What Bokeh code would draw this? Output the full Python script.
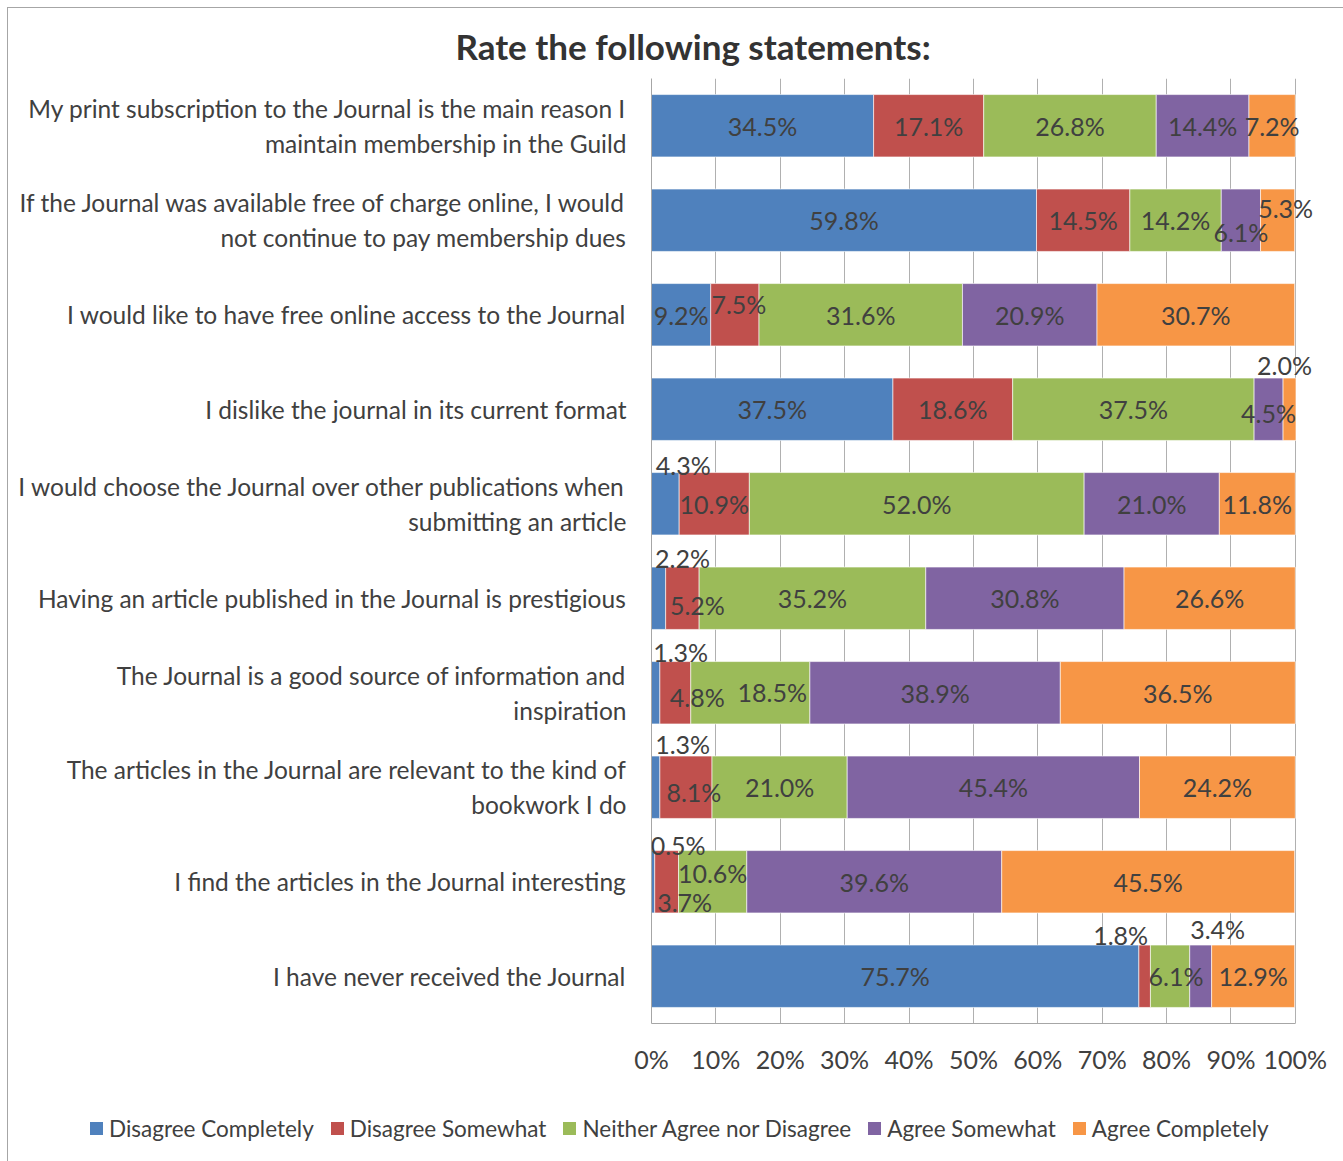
from bokeh.plotting import figure
from bokeh.models import (ColumnDataSource, LabelSet, FactorRange, Range1d, FixedTicker, Div)
from bokeh.layouts import column
from bokeh.core.properties import value
from bokeh.embed import file_html
from bokeh.resources import INLINE

statements = [
    "My print subscription to the Journal is the main reason I\nmaintain membership in the Guild",
    "If the Journal was available free of charge online, I would\nnot continue to pay membership dues",
    "I would like to have free online access to the Journal",
    "I dislike the journal in its current format",
    "I would choose the Journal over other publications when\nsubmitting an article",
    "Having an article published in the Journal is prestigious",
    "The Journal is a good source of information and\ninspiration",
    "The articles in the Journal are relevant to the kind of\nbookwork I do",
    "I find the articles in the Journal interesting",
    "I have never received the Journal",
]
series_names = ["Disagree Completely", "Disagree Somewhat", "Neither Agree nor Disagree",
                "Agree Somewhat", "Agree Completely"]
disagree_completely = [34.5, 59.8, 9.2, 37.5, 4.3, 2.2, 1.3, 1.3, 0.5, 75.7]
disagree_somewhat = [17.1, 14.5, 7.5, 18.6, 10.9, 5.2, 4.8, 8.1, 3.7, 1.8]
neither = [26.8, 14.2, 31.6, 37.5, 52.0, 35.2, 18.5, 21.0, 10.6, 6.1]
agree_somewhat = [14.4, 6.1, 20.9, 4.5, 21.0, 30.8, 38.9, 45.4, 39.6, 3.4]
agree_completely = [7.2, 5.3, 30.7, 2.0, 11.8, 26.6, 36.5, 24.2, 45.5, 12.9]
x_ticks = [0, 10, 20, 30, 40, 50, 60, 70, 80, 90, 100]

colors = ["#4F81BD", "#C0504D", "#9BBB59", "#8064A2", "#F79646"]
keys = ["dc", "ds", "n", "as", "ac"]
values = [disagree_completely, disagree_somewhat, neither, agree_somewhat, agree_completely]

# manual label nudges (row, series) -> (dx px, dy px, +down), as in the original
nudges = {
    (1, 4): (8, -12), (1, 3): (0, 12),
    (2, 1): (4, -11),
    (3, 4): (-5, -44), (3, 3): (0, 4),
    (4, 0): (18, -39),
    (5, 0): (24, -40), (5, 1): (15, 7),
    (6, 0): (25, -41), (6, 1): (22, 4), (6, 2): (22, -1),
    (7, 0): (27, -43), (7, 1): (8, 5),
    (8, 0): (25, -37), (8, 2): (0, -9), (8, 1): (18, 20),
    (9, 1): (-24, -41), (9, 3): (17, -47), (9, 2): (6, 0),
}

FONT = "Lato"
TXT = "#404040"

data = {"cat": statements}
for k, v in zip(keys, values):
    data[k] = v
source = ColumnDataSource(data)

p = figure(width=1331, height=1092,
           y_range=FactorRange(*reversed(statements)), x_range=Range1d(0, 105),
           output_backend="svg", toolbar_location=None,
           min_border_left=643, min_border_right=12, min_border_top=70, min_border_bottom=77)

renderers = p.hbar_stack(keys, y="cat", height=0.66, color=colors, source=source,
                         line_color="white", line_width=0.6)

# data labels
lx, ly, lt, ldx, ldy = [], [], [], [], []
for i, cat in enumerate(statements):
    left = 0.0
    for j, v in enumerate(values):
        val = v[i]
        lx.append(left + val / 2)
        ly.append(cat)
        lt.append(f"{val:.1f}%")
        dx, dy = nudges.get((i, j), (0, 0))
        ldx.append(dx)
        ldy.append(-dy)
        left += val
lsrc = ColumnDataSource(dict(x=lx, y=ly, t=lt, dx=ldx, dy=ldy))
p.add_layout(LabelSet(x="x", y="y", text="t", source=lsrc, x_offset="dx", y_offset="dy",
                      text_align="center", text_baseline="middle", text_color=TXT,
                      text_font=value(FONT), text_font_size="25px"))

# axes
p.xaxis.ticker = FixedTicker(ticks=x_ticks)
p.xaxis.bounds = (0, 100)
p.xaxis.major_label_overrides = {t: f"{t}%" for t in x_ticks}
p.xaxis.axis_line_color = "#a6a6a6"
p.xaxis.major_tick_line_color = None
p.xaxis.minor_tick_line_color = None
p.xaxis.major_label_standoff = 14
p.xaxis.major_label_text_font = FONT
p.xaxis.major_label_text_font_size = "25px"
p.xaxis.major_label_text_color = TXT

p.yaxis.axis_line_color = "#a6a6a6"
p.yaxis.major_tick_line_color = None
p.yaxis.minor_tick_line_color = None
p.yaxis.major_label_standoff = 19
p.yaxis.major_label_text_font = FONT
p.yaxis.major_label_text_font_size = "24.5px"
p.yaxis.major_label_text_color = TXT

p.xgrid.grid_line_color = "#b0b0b0"
p.ygrid.grid_line_color = None
p.outline_line_color = None

# title
p.title.text = "Rate the following statements:"
p.title.align = "left"
p.title.offset = -196
p.title.standoff = 24
p.title.text_font = FONT
p.title.text_font_style = "bold"
p.title.text_font_size = "35px"
p.title.text_color = "#333333"

# legend strip
items_html = "".join(
    f'<span style="display:inline-flex;align-items:center;margin-right:17px;">'
    f'<span style="display:inline-block;width:13px;height:13px;background:{c};margin-right:6px;"></span>'
    f'{n}</span>'
    for n, c in zip(series_names, colors))
legend_div = Div(
    text=(f'<div style="display:flex;align-items:center;height:48px;padding-left:77px;'
          f'font-family:{FONT};font-size:22.5px;color:{TXT};white-space:nowrap;">'
          f'{items_html}</div>'),
    width=1331, height=61)

layout = column(p, legend_div, spacing=0)
layout.styles = {"margin": "7px 0 0 7px", "border": "1px solid #a6a6a6"}

open("out.html", "w").write(file_html(layout, INLINE))
